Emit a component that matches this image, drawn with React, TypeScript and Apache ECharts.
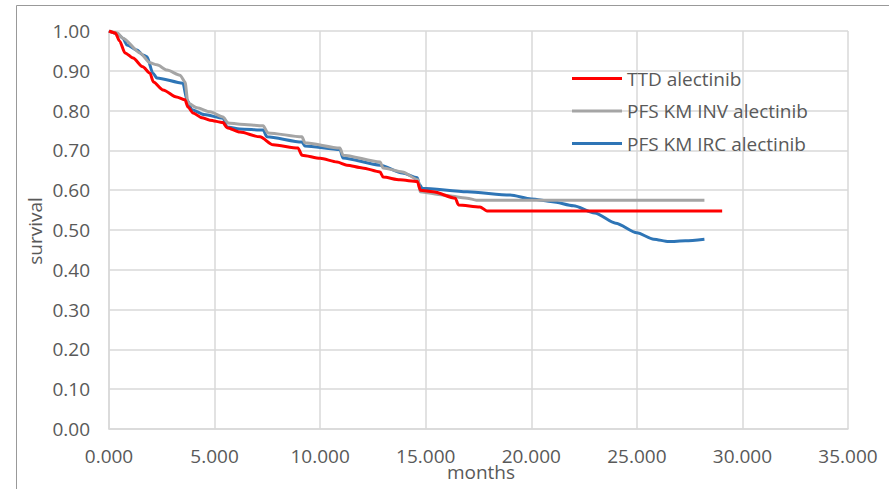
import React, { useEffect, useRef } from "react";
import * as echarts from "echarts";

const seriesNames = ["TTD alectinib", "PFS KM INV alectinib", "PFS KM IRC alectinib"];
const seriesColors = ["#FF0000", "#A5A5A5", "#2E75B6"];

const ttd: [number, number][] = [
  [0, 1.0], [0.3, 0.995], [0.5, 0.975], [0.76, 0.945], [1.14, 0.932], [1.6, 0.91], [1.94, 0.894],
  [2.1, 0.872], [2.56, 0.852], [3.2, 0.834], [3.6, 0.827], [3.74, 0.809], [3.98, 0.794], [4.4, 0.782],
  [4.78, 0.776], [5.4, 0.77], [5.59, 0.757], [6.2, 0.746], [7.15, 0.734], [7.77, 0.714], [8.95, 0.706],
  [9.14, 0.688], [10.0, 0.68], [10.8, 0.671], [11.27, 0.663], [12.0, 0.656], [12.84, 0.646],
  [12.98, 0.633], [13.78, 0.626], [14.6, 0.622], [14.75, 0.6], [15.35, 0.596], [16.4, 0.58],
  [16.55, 0.563], [17.57, 0.558], [17.9, 0.548], [29.04, 0.548],
];

const pfsInv: [number, number][] = [
  [0, 1.0], [0.4, 0.995], [0.66, 0.982], [1.47, 0.945], [1.94, 0.92], [2.27, 0.915], [2.75, 0.902],
  [3.36, 0.889], [3.6, 0.872], [3.74, 0.819], [4.17, 0.807], [4.78, 0.797], [5.4, 0.784], [5.64, 0.769],
  [6.2, 0.766], [7.3, 0.762], [7.53, 0.744], [9.14, 0.734], [9.28, 0.719], [10.94, 0.706], [11.08, 0.688],
  [12.84, 0.671], [12.98, 0.656], [13.9, 0.646], [14.64, 0.626], [14.73, 0.596], [15.8, 0.588],
  [16.96, 0.58], [17.4, 0.575], [28.2, 0.575],
];

const pfsIrc: [number, number][] = [
  [0, 1.0], [0.4, 0.993], [0.66, 0.982], [0.85, 0.965], [1.33, 0.952], [1.6, 0.94], [1.8, 0.935],
  [2.08, 0.894], [2.27, 0.882], [3.5, 0.869], [3.69, 0.827], [3.93, 0.802], [4.5, 0.79], [5.4, 0.781],
  [5.59, 0.759], [6.2, 0.754], [7.3, 0.751], [7.48, 0.734], [9.14, 0.721], [9.28, 0.711], [10.94, 0.702],
  [11.08, 0.681], [12.84, 0.663], [13.9, 0.643], [14.6, 0.631], [14.7, 0.615], [14.83, 0.605],
  [16.96, 0.596], [19.0, 0.588], [20.0, 0.578], [21.0, 0.571], [22.0, 0.561], [23.0, 0.543],
  [24.0, 0.517], [25.0, 0.493], [25.8, 0.477], [26.5, 0.471], [27.3, 0.473], [28.2, 0.477],
];

const xTitle = "months";
const yTitle = "survival";

const FONT = "'Open Sans', sans-serif";
const TXT = "#595959";
const GRID = "#D9D9D9";

export default function App() {
  const ref = useRef<HTMLDivElement>(null);
  useEffect(() => {
    if (!ref.current) return;
    const chart = echarts.init(ref.current, undefined, { renderer: "svg" });
    const datas = [ttd, pfsInv, pfsIrc];
    chart.setOption({
      animation: false,
      backgroundColor: "#ffffff",
      grid: { left: 109, top: 31, right: 41, bottom: 60, containLabel: false },
      legend: {
        orient: "vertical",
        left: 572,
        top: 68,
        padding: 0,
        itemWidth: 50,
        itemHeight: 3,
        itemGap: 11.5,
        icon: "rect",
        textStyle: { color: TXT, fontSize: 19, fontFamily: FONT, lineHeight: 21 },
        data: seriesNames,
      },
      xAxis: {
        type: "value",
        min: 0,
        max: 35,
        interval: 5,
        axisLine: { show: true, lineStyle: { color: GRID, width: 1.5 } },
        axisTick: { show: false },
        splitLine: { show: true, lineStyle: { color: GRID, width: 1.5 } },
        axisLabel: {
          color: TXT, fontSize: 19, fontFamily: FONT, margin: 17,
          formatter: (v: number) => v.toFixed(3),
        },
      },
      yAxis: {
        type: "value",
        min: 0,
        max: 1,
        interval: 0.1,
        axisLine: { show: true, lineStyle: { color: GRID, width: 1.5 } },
        axisTick: { show: false },
        splitLine: { show: true, lineStyle: { color: GRID, width: 1.5 } },
        axisLabel: {
          color: TXT, fontSize: 19, fontFamily: FONT, margin: 19,
          formatter: (v: number) => v.toFixed(2),
        },
      },
      series: datas.map((d, i) => ({
        name: seriesNames[i],
        type: "line",
        data: d,
        showSymbol: false,
        symbol: "none",
        smooth: 0.25,
        smoothMonotone: "x",
        color: seriesColors[i],
        lineStyle: { color: seriesColors[i], width: 3 },
        z: 3 - i,
      })),
      graphic: [
        {
          type: "rect",
          shape: { x: 16.5, y: 5.5, width: 880, height: 520 },
          style: { fill: "none", stroke: "#999999", lineWidth: 1 },
          silent: true,
          z: -1,
        },
        {
          type: "text",
          x: 35,
          y: 231,
          rotation: Math.PI / 2,
          style: {
            text: yTitle, fill: TXT, fontSize: 19, fontFamily: FONT,
            textAlign: "center", textVerticalAlign: "middle",
          },
        },
        {
          type: "text",
          x: 481,
          y: 472,
          style: {
            text: xTitle, fill: TXT, fontSize: 19, fontFamily: FONT,
            textAlign: "center", textVerticalAlign: "middle",
          },
        },
      ],
    });
    return () => chart.dispose();
  }, []);
  return (
    <div
      ref={ref}
      style={{ position: "fixed", left: 0, top: 0, width: 889, height: 489 }}
    />
  );
}
